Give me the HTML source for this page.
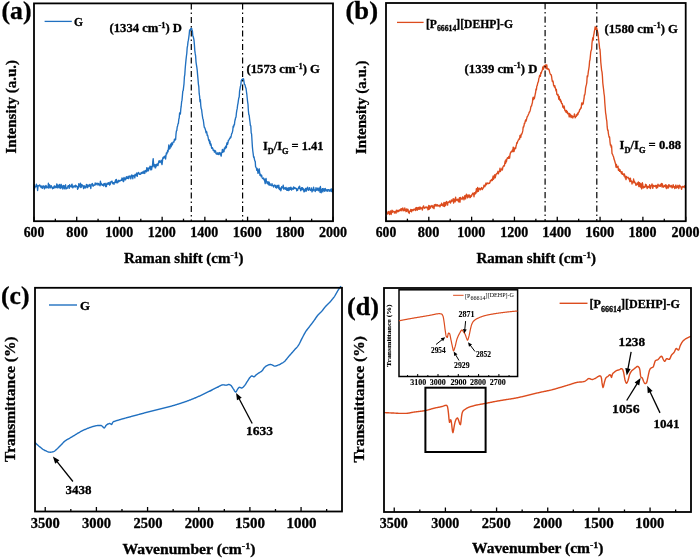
<!DOCTYPE html>
<html><head><meta charset="utf-8"><style>
html,body{margin:0;padding:0;background:#fff;}
svg{display:block;}
text{font-family:'Liberation Serif','Times New Roman',serif;fill:#000;}
text[font-weight="bold"]{stroke:#000;stroke-width:0.3px;}
text[font-size="7"],text[font-size="7.5"]{stroke-width:0.1px;}
</style></head><body>
<svg width="700" height="559" viewBox="0 0 700 559">
<rect width="700" height="559" fill="#fff"/>
<path d="M34.00,190.55 34.40,184.58 34.80,188.08 35.20,186.63 35.60,186.58 36.00,186.69 36.40,184.26 36.80,186.34 37.20,185.41 37.60,190.54 38.00,186.58 38.40,185.79 38.80,185.85 39.20,185.37 39.60,184.89 40.00,185.73 40.40,186.84 40.80,185.97 41.20,187.49 41.60,186.07 42.00,186.39 42.40,188.32 42.80,187.10 43.20,185.82 43.60,186.25 44.00,187.18 44.40,188.94 44.80,186.21 45.20,186.27 45.60,187.85 46.00,185.51 46.40,186.28 46.80,187.78 47.20,187.43 47.60,186.84 48.00,187.59 48.40,183.25 48.80,188.08 49.20,185.63 49.60,184.77 50.00,187.22 50.40,187.77 50.80,186.36 51.20,185.59 51.60,186.98 52.00,186.90 52.40,188.73 52.80,187.92 53.20,187.24 53.60,188.39 54.00,186.74 54.40,185.84 54.80,187.73 55.20,187.73 55.60,186.73 56.00,186.02 56.40,187.29 56.80,183.88 57.20,187.86 57.60,187.61 58.00,184.95 58.40,187.08 58.80,185.79 59.20,187.95 59.60,184.46 60.00,185.86 60.40,187.89 60.80,188.45 61.20,184.30 61.60,186.38 62.00,187.41 62.40,186.24 62.80,188.99 63.20,185.51 63.60,187.44 64.00,185.69 64.40,188.75 64.80,186.96 65.20,186.51 65.60,184.80 66.00,189.03 66.40,187.84 66.80,187.81 67.20,188.25 67.60,187.23 68.00,185.95 68.40,185.71 68.80,185.66 69.20,188.33 69.60,184.75 70.00,185.78 70.40,186.08 70.80,186.72 71.20,187.12 71.60,184.80 72.00,184.16 72.40,186.29 72.80,187.78 73.20,187.18 73.60,186.49 74.00,185.80 74.40,186.55 74.80,185.87 75.20,187.19 75.60,185.16 76.00,186.32 76.40,186.00 76.80,186.81 77.20,186.41 77.60,189.31 78.00,187.99 78.40,187.98 78.80,183.56 79.20,185.67 79.60,185.33 80.00,186.75 80.40,183.23 80.80,187.54 81.20,187.40 81.60,184.43 82.00,184.83 82.40,185.04 82.80,186.09 83.20,186.83 83.60,188.57 84.00,185.75 84.40,186.94 84.80,186.16 85.20,188.15 85.60,186.85 86.00,187.61 86.40,184.52 86.80,185.60 87.20,184.79 87.60,187.65 88.00,186.55 88.40,185.31 88.80,185.09 89.20,186.21 89.60,184.69 90.00,184.35 90.40,186.07 90.80,188.50 91.20,185.06 91.60,184.63 92.00,183.80 92.40,183.55 92.80,185.82 93.20,186.17 93.60,185.07 94.00,185.42 94.40,185.08 94.80,185.03 95.20,182.86 95.60,184.10 96.00,184.71 96.40,183.48 96.80,183.76 97.20,183.22 97.60,183.73 98.00,185.12 98.40,183.46 98.80,183.71 99.20,184.86 99.60,184.62 100.00,185.92 100.40,181.19 100.80,184.88 101.20,183.23 101.60,184.02 102.00,184.92 102.40,185.25 102.80,185.22 103.20,184.13 103.60,185.97 104.00,183.63 104.40,183.82 104.80,185.00 105.20,183.31 105.60,186.67 106.00,185.20 106.40,186.58 106.80,183.75 107.20,183.22 107.60,183.81 108.00,184.41 108.40,182.66 108.80,183.76 109.20,183.16 109.60,185.11 110.00,182.17 110.40,184.23 110.80,182.04 111.20,181.56 111.60,181.79 112.00,181.11 112.40,182.70 112.80,183.73 113.20,182.57 113.60,183.06 114.00,184.24 114.40,182.46 114.80,182.28 115.20,181.62 115.60,179.87 116.00,182.76 116.40,179.54 116.80,182.47 117.20,181.56 117.60,182.91 118.00,181.34 118.40,180.32 118.80,181.72 119.20,180.48 119.60,180.87 120.00,181.05 120.40,180.73 120.80,180.57 121.20,179.66 121.60,180.35 122.00,177.81 122.40,180.17 122.80,178.75 123.20,181.52 123.60,181.58 124.00,177.42 124.40,179.90 124.80,179.42 125.20,178.11 125.60,179.92 126.00,178.49 126.40,176.67 126.80,178.34 127.20,178.27 127.60,178.37 128.00,176.48 128.40,178.57 128.80,178.51 129.20,175.95 129.60,176.36 130.00,176.90 130.40,176.12 130.80,178.83 131.20,176.75 131.60,175.06 132.00,175.18 132.40,175.94 132.80,178.73 133.20,175.48 133.60,175.71 134.00,176.04 134.40,175.19 134.80,177.93 135.20,174.26 135.60,175.69 136.00,174.80 136.40,175.22 136.80,172.81 137.20,176.33 137.60,173.81 138.00,173.84 138.40,172.47 138.80,172.57 139.20,174.03 139.60,174.39 140.00,173.94 140.40,174.35 140.80,173.58 141.20,172.57 141.60,173.43 142.00,172.98 142.40,171.96 142.80,172.84 143.20,173.39 143.60,171.91 144.00,171.01 144.40,172.18 144.80,173.47 145.20,170.64 145.60,170.57 146.00,170.29 146.40,171.75 146.80,167.67 147.20,170.16 147.60,170.93 148.00,168.16 148.40,170.78 148.80,169.34 149.20,167.75 149.60,168.46 150.00,166.08 150.40,167.10 150.80,169.92 151.20,166.36 151.60,169.63 152.00,167.08 152.40,166.53 152.80,161.71 153.20,158.71 153.60,164.15 154.00,166.70 154.40,164.87 154.80,164.45 155.20,167.90 155.60,167.92 156.00,164.88 156.40,164.37 156.80,165.95 157.20,163.89 157.60,165.22 158.00,165.50 158.40,163.17 158.80,161.27 159.20,160.62 159.60,161.81 160.00,162.60 160.40,161.54 160.80,161.64 161.20,160.17 161.60,163.02 162.00,164.67 162.40,161.73 162.80,158.06 163.20,157.33 163.60,158.21 164.00,156.85 164.40,156.39 164.80,157.71 165.20,155.99 165.60,158.98 166.00,155.71 166.40,152.97 166.80,153.97 167.20,152.67 167.60,150.53 168.00,151.91 168.40,148.71 168.80,145.02 169.20,149.04 169.60,146.56 170.00,148.53 170.40,145.24 170.80,143.98 171.20,146.80 171.60,142.91 172.00,143.91 172.40,144.92 172.80,142.74 173.20,141.99 173.60,141.68 174.00,142.00 174.40,139.24 174.80,140.19 175.20,139.14 175.60,139.69 176.00,134.14 176.40,130.94 176.80,130.56 177.20,127.01 177.60,125.96 178.00,123.93 178.40,123.40 178.80,119.25 179.20,117.99 179.60,112.96 180.00,113.08 180.40,114.02 180.80,108.92 181.20,106.19 181.60,101.96 182.00,100.17 182.40,95.92 182.80,91.16 183.20,90.68 183.60,87.11 184.00,83.82 184.40,76.95 184.80,74.62 185.20,68.52 185.60,64.03 186.00,59.84 186.40,56.27 186.80,53.27 187.20,47.54 187.60,45.63 188.00,41.93 188.40,40.19 188.80,37.32 189.20,34.25 189.60,29.99 190.00,30.99 190.40,30.19 190.80,28.52 191.20,28.83 191.60,28.21 192.00,29.70 192.40,30.85 192.80,35.85 193.20,36.50 193.60,38.16 194.00,40.14 194.40,44.91 194.80,50.58 195.20,53.40 195.60,55.81 196.00,61.82 196.40,64.73 196.80,67.09 197.20,70.15 197.60,74.83 198.00,79.08 198.40,84.08 198.80,86.57 199.20,93.70 199.60,96.06 200.00,101.73 200.40,99.64 200.80,105.79 201.20,108.67 201.60,109.49 202.00,113.01 202.40,115.99 202.80,118.40 203.20,119.50 203.60,122.26 204.00,125.62 204.40,127.59 204.80,127.61 205.20,128.96 205.60,130.40 206.00,132.71 206.40,131.34 206.80,132.28 207.20,135.37 207.60,135.07 208.00,136.94 208.40,138.97 208.80,140.61 209.20,139.79 209.60,143.23 210.00,141.15 210.40,145.17 210.80,143.60 211.20,144.96 211.60,148.22 212.00,147.59 212.40,147.67 212.80,148.62 213.20,150.24 213.60,150.03 214.00,150.46 214.40,152.19 214.80,150.32 215.20,150.94 215.60,151.17 216.00,153.56 216.40,153.62 216.80,154.27 217.20,152.89 217.60,152.97 218.00,154.42 218.40,152.98 218.80,154.54 219.20,154.38 219.60,152.54 220.00,153.21 220.40,153.05 220.80,155.22 221.20,156.12 221.60,152.57 222.00,152.51 222.40,149.42 222.80,152.30 223.20,151.69 223.60,149.89 224.00,151.64 224.40,148.04 224.80,148.99 225.20,148.65 225.60,146.10 226.00,147.90 226.40,147.32 226.80,143.47 227.20,142.61 227.60,144.24 228.00,142.52 228.40,140.09 228.80,140.24 229.20,139.46 229.60,138.37 230.00,138.53 230.40,136.92 230.80,137.56 231.20,135.94 231.60,133.91 232.00,133.18 232.40,132.19 232.80,130.04 233.20,126.15 233.60,127.21 234.00,124.59 234.40,124.81 234.80,121.13 235.20,119.82 235.60,117.62 236.00,117.23 236.40,113.18 236.80,110.35 237.20,108.68 237.60,105.21 238.00,103.31 238.40,100.37 238.80,97.94 239.20,96.95 239.60,90.89 240.00,88.85 240.40,86.41 240.80,85.37 241.20,81.07 241.60,79.99 242.00,79.54 242.40,79.58 242.80,78.80 243.20,78.69 243.60,79.06 244.00,81.88 244.40,84.34 244.80,84.34 245.20,85.60 245.60,87.66 246.00,88.04 246.40,91.28 246.80,94.05 247.20,97.97 247.60,101.60 248.00,104.23 248.40,110.70 248.80,114.60 249.20,115.21 249.60,119.06 250.00,121.97 250.40,125.60 250.80,125.85 251.20,133.08 251.60,134.01 252.00,140.58 252.40,146.86 252.80,151.00 253.20,153.94 253.60,157.21 254.00,156.70 254.40,159.10 254.80,160.85 255.20,161.16 255.60,166.66 256.00,167.30 256.40,167.85 256.80,170.32 257.20,168.53 257.60,170.39 258.00,173.33 258.40,173.02 258.80,169.59 259.20,168.77 259.60,172.19 260.00,175.38 260.40,174.05 260.80,174.94 261.20,176.54 261.60,175.23 262.00,177.14 262.40,178.39 262.80,178.48 263.20,178.86 263.60,178.05 264.00,179.86 264.40,179.09 264.80,181.65 265.20,183.62 265.60,179.86 266.00,178.42 266.40,180.95 266.80,182.28 267.20,183.44 267.60,183.77 268.00,181.72 268.40,181.97 268.80,184.80 269.20,182.09 269.60,185.05 270.00,183.63 270.40,185.09 270.80,185.22 271.20,185.51 271.60,185.76 272.00,183.68 272.40,185.47 272.80,185.29 273.20,185.83 273.60,187.15 274.00,185.42 274.40,185.03 274.80,185.16 275.20,185.83 275.60,187.31 276.00,185.50 276.40,188.11 276.80,187.16 277.20,186.65 277.60,185.39 278.00,187.48 278.40,188.15 278.80,185.18 279.20,188.96 279.60,189.61 280.00,188.04 280.40,188.29 280.80,190.75 281.20,189.34 281.60,186.73 282.00,187.89 282.40,187.77 282.80,187.84 283.20,185.12 283.60,189.08 284.00,187.38 284.40,188.43 284.80,188.11 285.20,189.41 285.60,187.99 286.00,187.41 286.40,189.11 286.80,190.24 287.20,188.11 287.60,190.26 288.00,188.90 288.40,187.93 288.80,190.53 289.20,187.62 289.60,189.93 290.00,188.05 290.40,189.25 290.80,187.15 291.20,187.65 291.60,190.03 292.00,188.94 292.40,188.75 292.80,188.15 293.20,189.26 293.60,186.95 294.00,187.30 294.40,188.50 294.80,187.66 295.20,187.82 295.60,188.61 296.00,188.53 296.40,188.42 296.80,190.78 297.20,189.96 297.60,190.24 298.00,188.66 298.40,188.07 298.80,186.88 299.20,188.26 299.60,186.09 300.00,187.97 300.40,189.66 300.80,190.73 301.20,189.91 301.60,187.62 302.00,189.32 302.40,187.71 302.80,189.73 303.20,188.56 303.60,189.78 304.00,191.93 304.40,189.89 304.80,191.68 305.20,189.01 305.60,188.41 306.00,190.53 306.40,191.06 306.80,188.26 307.20,189.10 307.60,187.26 308.00,188.86 308.40,190.28 308.80,189.11 309.20,188.57 309.60,187.58 310.00,189.86 310.40,190.45 310.80,190.25 311.20,189.88 311.60,188.02 312.00,191.87 312.40,189.64 312.80,189.57 313.20,190.71 313.60,187.12 314.00,189.78 314.40,189.71 314.80,190.37 315.20,191.60 315.60,190.52 316.00,187.65 316.40,189.54 316.80,190.23 317.20,190.17 317.60,188.40 318.00,187.94 318.40,190.72 318.80,190.47 319.20,190.03 319.60,187.91 320.00,192.30 320.40,186.47 320.80,189.65 321.20,192.73 321.60,189.93 322.00,190.43 322.40,188.67 322.80,191.86 323.20,188.55 323.60,190.50 324.00,190.36 324.40,188.88 324.80,191.32 325.20,188.45 325.60,189.37 326.00,190.20 326.40,189.72 326.80,190.83 327.20,191.41 327.60,189.89 328.00,189.59 328.40,189.62 328.80,189.82 329.20,191.29 329.60,190.01 330.00,190.80 330.40,190.18 330.80,189.24 331.20,191.37 331.60,189.00 332.00,190.31 332.40,192.16 332.80,188.93" fill="none" stroke="#2070c0" stroke-width="1.35" stroke-linejoin="round"/>
<line x1="191.3" y1="3.4" x2="191.3" y2="221.2" stroke="#000" stroke-width="1.2" stroke-dasharray="6.2,2.9,1.4,3.0"/>
<line x1="242.6" y1="3.4" x2="242.6" y2="221.2" stroke="#000" stroke-width="1.2" stroke-dasharray="6.2,2.9,1.4,3.0"/>
<rect x="34" y="3.4" width="299" height="217.79999999999998" fill="none" stroke="#000" stroke-width="1.8"/>
<line x1="34.00" y1="221.2" x2="34.00" y2="216.7" stroke="#000" stroke-width="1.3"/>
<line x1="76.71" y1="221.2" x2="76.71" y2="216.7" stroke="#000" stroke-width="1.3"/>
<line x1="119.43" y1="221.2" x2="119.43" y2="216.7" stroke="#000" stroke-width="1.3"/>
<line x1="162.14" y1="221.2" x2="162.14" y2="216.7" stroke="#000" stroke-width="1.3"/>
<line x1="204.86" y1="221.2" x2="204.86" y2="216.7" stroke="#000" stroke-width="1.3"/>
<line x1="247.57" y1="221.2" x2="247.57" y2="216.7" stroke="#000" stroke-width="1.3"/>
<line x1="290.29" y1="221.2" x2="290.29" y2="216.7" stroke="#000" stroke-width="1.3"/>
<line x1="333.00" y1="221.2" x2="333.00" y2="216.7" stroke="#000" stroke-width="1.3"/>
<line x1="55.36" y1="221.2" x2="55.36" y2="218.7" stroke="#000" stroke-width="1.3"/>
<line x1="98.07" y1="221.2" x2="98.07" y2="218.7" stroke="#000" stroke-width="1.3"/>
<line x1="140.79" y1="221.2" x2="140.79" y2="218.7" stroke="#000" stroke-width="1.3"/>
<line x1="183.50" y1="221.2" x2="183.50" y2="218.7" stroke="#000" stroke-width="1.3"/>
<line x1="226.21" y1="221.2" x2="226.21" y2="218.7" stroke="#000" stroke-width="1.3"/>
<line x1="268.93" y1="221.2" x2="268.93" y2="218.7" stroke="#000" stroke-width="1.3"/>
<line x1="311.64" y1="221.2" x2="311.64" y2="218.7" stroke="#000" stroke-width="1.3"/>
<line x1="44.6" y1="21.4" x2="71.8" y2="21.4" stroke="#2070c0" stroke-width="1.3"/>
<path d="M386.00,211.60 386.40,210.94 386.80,212.29 387.20,213.12 387.60,214.01 388.00,212.72 388.40,211.88 388.80,211.58 389.20,213.49 389.60,214.58 390.00,212.87 390.40,210.97 390.80,211.29 391.20,214.47 391.60,212.71 392.00,210.27 392.40,212.31 392.80,210.94 393.20,211.58 393.60,211.73 394.00,211.42 394.40,212.98 394.80,212.18 395.20,211.49 395.60,212.70 396.00,213.20 396.40,210.07 396.80,211.77 397.20,210.80 397.60,211.71 398.00,210.19 398.40,211.68 398.80,211.45 399.20,210.95 399.60,209.85 400.00,210.50 400.40,209.48 400.80,209.02 401.20,210.89 401.60,208.65 402.00,209.46 402.40,209.90 402.80,208.00 403.20,210.84 403.60,209.12 404.00,210.54 404.40,210.55 404.80,208.01 405.20,210.21 405.60,210.18 406.00,211.70 406.40,209.02 406.80,211.42 407.20,209.13 407.60,210.09 408.00,209.44 408.40,212.29 408.80,211.17 409.20,213.47 409.60,211.19 410.00,211.40 410.40,211.35 410.80,209.48 411.20,210.10 411.60,211.81 412.00,209.56 412.40,210.22 412.80,209.88 413.20,210.59 413.60,209.30 414.00,209.49 414.40,209.90 414.80,209.65 415.20,208.36 415.60,210.48 416.00,207.66 416.40,207.70 416.80,207.53 417.20,210.27 417.60,208.54 418.00,207.72 418.40,207.45 418.80,209.34 419.20,207.44 419.60,207.11 420.00,209.41 420.40,207.09 420.80,208.12 421.20,208.46 421.60,207.86 422.00,208.29 422.40,209.98 422.80,207.60 423.20,206.62 423.60,205.84 424.00,207.82 424.40,207.58 424.80,208.30 425.20,207.33 425.60,207.25 426.00,206.89 426.40,207.08 426.80,207.87 427.20,207.13 427.60,207.66 428.00,209.85 428.40,208.00 428.80,205.36 429.20,209.43 429.60,207.63 430.00,205.94 430.40,208.18 430.80,206.99 431.20,206.11 431.60,206.01 432.00,205.48 432.40,206.69 432.80,207.88 433.20,206.05 433.60,206.89 434.00,208.62 434.40,204.66 434.80,206.39 435.20,205.58 435.60,204.52 436.00,204.43 436.40,205.57 436.80,206.00 437.20,204.67 437.60,205.27 438.00,205.99 438.40,205.34 438.80,205.94 439.20,205.34 439.60,205.28 440.00,206.88 440.40,205.32 440.80,204.65 441.20,205.33 441.60,203.25 442.00,203.94 442.40,205.32 442.80,205.08 443.20,206.19 443.60,204.22 444.00,202.34 444.40,206.55 444.80,205.42 445.20,202.66 445.60,205.60 446.00,203.80 446.40,201.35 446.80,202.92 447.20,202.63 447.60,205.06 448.00,201.88 448.40,202.35 448.80,202.12 449.20,201.79 449.60,200.93 450.00,202.17 450.40,203.08 450.80,202.37 451.20,200.29 451.60,199.88 452.00,201.33 452.40,200.16 452.80,200.13 453.20,198.69 453.60,203.10 454.00,201.69 454.40,199.21 454.80,201.44 455.20,201.86 455.60,197.08 456.00,199.27 456.40,199.35 456.80,200.53 457.20,199.45 457.60,199.20 458.00,199.30 458.40,201.57 458.80,201.84 459.20,198.36 459.60,197.74 460.00,202.14 460.40,197.43 460.80,197.81 461.20,198.44 461.60,198.87 462.00,199.42 462.40,198.50 462.80,196.79 463.20,198.39 463.60,197.95 464.00,199.86 464.40,197.37 464.80,195.60 465.20,195.84 465.60,198.83 466.00,196.22 466.40,194.14 466.80,195.92 467.20,196.51 467.60,197.86 468.00,194.97 468.40,196.93 468.80,196.95 469.20,194.93 469.60,195.42 470.00,197.70 470.40,197.48 470.80,196.22 471.20,195.39 471.60,196.21 472.00,194.42 472.40,194.28 472.80,193.09 473.20,193.91 473.60,193.52 474.00,196.78 474.40,192.76 474.80,194.26 475.20,193.99 475.60,191.77 476.00,193.14 476.40,188.64 476.80,191.17 477.20,191.84 477.60,187.50 478.00,188.81 478.40,191.35 478.80,189.49 479.20,188.23 479.60,188.94 480.00,188.53 480.40,189.92 480.80,189.38 481.20,188.25 481.60,187.56 482.00,188.10 482.40,189.58 482.80,188.10 483.20,188.19 483.60,186.90 484.00,185.14 484.40,185.53 484.80,186.87 485.20,185.82 485.60,184.18 486.00,182.91 486.40,184.69 486.80,183.76 487.20,183.38 487.60,183.04 488.00,183.45 488.40,183.10 488.80,183.58 489.20,183.17 489.60,183.31 490.00,182.29 490.40,180.49 490.80,180.47 491.20,180.77 491.60,179.38 492.00,180.06 492.40,180.42 492.80,177.57 493.20,175.94 493.60,179.21 494.00,177.30 494.40,177.67 494.80,174.61 495.20,177.91 495.60,176.13 496.00,174.52 496.40,173.74 496.80,173.86 497.20,173.09 497.60,172.58 498.00,171.19 498.40,173.85 498.80,171.93 499.20,171.79 499.60,171.53 500.00,168.18 500.40,171.49 500.80,170.11 501.20,169.82 501.60,169.89 502.00,168.17 502.40,169.98 502.80,167.50 503.20,166.53 503.60,165.74 504.00,166.08 504.40,165.82 504.80,163.13 505.20,160.99 505.60,163.26 506.00,159.74 506.40,161.82 506.80,159.58 507.20,158.14 507.60,157.61 508.00,158.41 508.40,158.38 508.80,156.46 509.20,157.33 509.60,158.19 510.00,154.74 510.40,152.98 510.80,152.52 511.20,151.53 511.60,151.90 512.00,151.22 512.40,149.89 512.80,151.62 513.20,147.08 513.60,148.07 514.00,151.59 514.40,149.71 514.80,148.39 515.20,147.61 515.60,148.54 516.00,146.27 516.40,144.96 516.80,142.56 517.20,143.22 517.60,141.58 518.00,140.78 518.40,139.90 518.80,139.84 519.20,138.56 519.60,139.11 520.00,135.40 520.40,135.86 520.80,137.39 521.20,134.10 521.60,134.52 522.00,133.37 522.40,132.48 522.80,130.63 523.20,126.83 523.60,127.08 524.00,125.79 524.40,123.20 524.80,123.46 525.20,121.41 525.60,119.86 526.00,121.19 526.40,119.88 526.80,118.09 527.20,116.77 527.60,116.28 528.00,115.44 528.40,114.38 528.80,113.73 529.20,112.13 529.60,112.00 530.00,110.99 530.40,109.58 530.80,107.08 531.20,105.90 531.60,105.97 532.00,103.93 532.40,102.86 532.80,98.55 533.20,97.07 533.60,99.64 534.00,98.40 534.40,98.46 534.80,96.29 535.20,94.27 535.60,92.52 536.00,89.02 536.40,90.00 536.80,86.17 537.20,85.68 537.60,83.67 538.00,82.28 538.40,81.67 538.80,78.62 539.20,77.48 539.60,75.65 540.00,75.03 540.40,76.34 540.80,72.56 541.20,73.30 541.60,71.76 542.00,70.71 542.40,69.99 542.80,66.99 543.20,68.11 543.60,69.19 544.00,65.96 544.40,66.46 544.80,65.47 545.20,66.70 545.60,65.01 546.00,68.45 546.40,66.09 546.80,64.79 547.20,69.16 547.60,68.59 548.00,68.68 548.40,69.46 548.80,69.16 549.20,70.12 549.60,72.15 550.00,73.32 550.40,74.34 550.80,74.51 551.20,74.81 551.60,76.49 552.00,79.58 552.40,81.49 552.80,80.73 553.20,81.90 553.60,85.30 554.00,85.84 554.40,86.97 554.80,85.59 555.20,87.87 555.60,88.78 556.00,90.76 556.40,89.46 556.80,94.24 557.20,94.11 557.60,95.34 558.00,94.33 558.40,96.72 558.80,99.27 559.20,96.38 559.60,99.40 560.00,100.50 560.40,99.35 560.80,101.82 561.20,101.00 561.60,103.60 562.00,103.45 562.40,103.90 562.80,107.04 563.20,106.53 563.60,108.10 564.00,105.93 564.40,107.51 564.80,110.18 565.20,110.98 565.60,110.47 566.00,112.19 566.40,110.52 566.80,112.68 567.20,111.47 567.60,113.73 568.00,113.03 568.40,113.16 568.80,114.33 569.20,116.81 569.60,113.53 570.00,114.26 570.40,116.54 570.80,114.83 571.20,117.69 571.60,115.84 572.00,115.76 572.40,116.17 572.80,117.97 573.20,116.68 573.60,116.56 574.00,116.27 574.40,114.03 574.80,114.89 575.20,117.84 575.60,116.92 576.00,116.36 576.40,116.28 576.80,114.50 577.20,115.24 577.60,113.30 578.00,114.49 578.40,112.46 578.80,112.11 579.20,111.80 579.60,109.65 580.00,109.81 580.40,108.67 580.80,107.73 581.20,108.14 581.60,103.83 582.00,102.81 582.40,104.60 582.80,103.88 583.20,103.86 583.60,100.68 584.00,98.95 584.40,94.83 584.80,94.78 585.20,92.50 585.60,88.13 586.00,86.08 586.40,84.66 586.80,82.62 587.20,75.94 587.60,76.99 588.00,74.42 588.40,71.09 588.80,68.82 589.20,66.08 589.60,61.14 590.00,59.75 590.40,55.77 590.80,51.85 591.20,50.44 591.60,49.35 592.00,42.99 592.40,40.17 592.80,37.74 593.20,40.07 593.60,35.39 594.00,33.81 594.40,31.08 594.80,29.29 595.20,26.80 595.60,29.11 596.00,29.37 596.40,26.98 596.80,28.78 597.20,29.95 597.60,31.77 598.00,33.69 598.40,37.39 598.80,40.96 599.20,44.20 599.60,48.21 600.00,49.35 600.40,54.99 600.80,62.23 601.20,66.14 601.60,70.29 602.00,71.88 602.40,75.93 602.80,82.98 603.20,86.35 603.60,89.54 604.00,93.50 604.40,96.01 604.80,102.81 605.20,107.81 605.60,112.78 606.00,115.15 606.40,118.86 606.80,121.07 607.20,126.93 607.60,130.24 608.00,129.93 608.40,133.58 608.80,135.73 609.20,137.21 609.60,137.03 610.00,141.82 610.40,145.10 610.80,144.53 611.20,147.21 611.60,145.98 612.00,153.40 612.40,154.02 612.80,154.97 613.20,156.04 613.60,156.98 614.00,159.01 614.40,160.00 614.80,161.29 615.20,162.76 615.60,164.15 616.00,167.09 616.40,164.42 616.80,167.52 617.20,167.20 617.60,167.16 618.00,166.14 618.40,170.31 618.80,168.72 619.20,169.37 619.60,171.24 620.00,169.63 620.40,171.34 620.80,171.55 621.20,173.00 621.60,173.65 622.00,171.71 622.40,174.37 622.80,173.54 623.20,174.25 623.60,174.27 624.00,175.95 624.40,173.90 624.80,176.16 625.20,177.72 625.60,176.29 626.00,179.55 626.40,176.45 626.80,177.95 627.20,177.38 627.60,177.50 628.00,177.16 628.40,178.15 628.80,179.03 629.20,178.34 629.60,180.70 630.00,181.73 630.40,178.16 630.80,181.34 631.20,180.75 631.60,181.03 632.00,184.01 632.40,182.65 632.80,181.76 633.20,181.77 633.60,179.04 634.00,182.90 634.40,181.19 634.80,182.52 635.20,182.60 635.60,183.85 636.00,185.36 636.40,184.21 636.80,184.74 637.20,183.01 637.60,184.03 638.00,184.57 638.40,181.96 638.80,186.46 639.20,183.16 639.60,182.59 640.00,186.37 640.40,187.12 640.80,183.74 641.20,184.00 641.60,188.82 642.00,185.23 642.40,182.77 642.80,184.64 643.20,188.06 643.60,186.53 644.00,186.78 644.40,187.50 644.80,186.93 645.20,185.77 645.60,184.28 646.00,186.90 646.40,184.99 646.80,186.33 647.20,188.60 647.60,187.08 648.00,186.47 648.40,186.48 648.80,187.31 649.20,187.55 649.60,184.75 650.00,186.63 650.40,188.54 650.80,187.34 651.20,185.44 651.60,185.55 652.00,183.82 652.40,185.41 652.80,188.41 653.20,186.31 653.60,185.33 654.00,185.68 654.40,186.25 654.80,186.23 655.20,185.90 655.60,185.36 656.00,187.08 656.40,188.18 656.80,185.51 657.20,185.51 657.60,187.63 658.00,184.28 658.40,185.34 658.80,185.58 659.20,186.24 659.60,185.67 660.00,184.90 660.40,186.39 660.80,184.52 661.20,183.84 661.60,183.50 662.00,186.99 662.40,183.91 662.80,186.68 663.20,186.99 663.60,187.20 664.00,186.00 664.40,185.57 664.80,186.40 665.20,185.58 665.60,184.74 666.00,187.94 666.40,185.27 666.80,188.64 667.20,187.04 667.60,185.83 668.00,186.95 668.40,187.94 668.80,184.68 669.20,185.24 669.60,185.09 670.00,186.61 670.40,186.91 670.80,186.44 671.20,185.49 671.60,185.74 672.00,187.88 672.40,187.80 672.80,186.56 673.20,184.76 673.60,187.19 674.00,186.76 674.40,186.72 674.80,188.57 675.20,187.44 675.60,185.20 676.00,185.22 676.40,188.17 676.80,186.71 677.20,187.58 677.60,186.36 678.00,185.32 678.40,186.93 678.80,188.57 679.20,187.07 679.60,185.27 680.00,186.32 680.40,186.11 680.80,186.99 681.20,188.08 681.60,189.31 682.00,187.16 682.40,186.38 682.80,187.05 683.20,187.01 683.60,186.49 684.00,187.09 684.40,187.10 684.80,185.66 685.20,187.86 685.60,186.76" fill="none" stroke="#dc4c1e" stroke-width="1.35" stroke-linejoin="round"/>
<line x1="545.1" y1="3" x2="545.1" y2="221.2" stroke="#000" stroke-width="1.2" stroke-dasharray="6.2,2.9,1.4,3.0"/>
<line x1="596.8" y1="3" x2="596.8" y2="221.2" stroke="#000" stroke-width="1.2" stroke-dasharray="6.2,2.9,1.4,3.0"/>
<rect x="386" y="3" width="299.70000000000005" height="218.2" fill="none" stroke="#000" stroke-width="1.8"/>
<line x1="386.00" y1="221.2" x2="386.00" y2="216.7" stroke="#000" stroke-width="1.3"/>
<line x1="428.81" y1="221.2" x2="428.81" y2="216.7" stroke="#000" stroke-width="1.3"/>
<line x1="471.63" y1="221.2" x2="471.63" y2="216.7" stroke="#000" stroke-width="1.3"/>
<line x1="514.44" y1="221.2" x2="514.44" y2="216.7" stroke="#000" stroke-width="1.3"/>
<line x1="557.26" y1="221.2" x2="557.26" y2="216.7" stroke="#000" stroke-width="1.3"/>
<line x1="600.07" y1="221.2" x2="600.07" y2="216.7" stroke="#000" stroke-width="1.3"/>
<line x1="642.89" y1="221.2" x2="642.89" y2="216.7" stroke="#000" stroke-width="1.3"/>
<line x1="685.70" y1="221.2" x2="685.70" y2="216.7" stroke="#000" stroke-width="1.3"/>
<line x1="407.41" y1="221.2" x2="407.41" y2="218.7" stroke="#000" stroke-width="1.3"/>
<line x1="450.22" y1="221.2" x2="450.22" y2="218.7" stroke="#000" stroke-width="1.3"/>
<line x1="493.04" y1="221.2" x2="493.04" y2="218.7" stroke="#000" stroke-width="1.3"/>
<line x1="535.85" y1="221.2" x2="535.85" y2="218.7" stroke="#000" stroke-width="1.3"/>
<line x1="578.66" y1="221.2" x2="578.66" y2="218.7" stroke="#000" stroke-width="1.3"/>
<line x1="621.48" y1="221.2" x2="621.48" y2="218.7" stroke="#000" stroke-width="1.3"/>
<line x1="664.29" y1="221.2" x2="664.29" y2="218.7" stroke="#000" stroke-width="1.3"/>
<line x1="397" y1="22.4" x2="423.6" y2="22.4" stroke="#dc4c1e" stroke-width="1.3"/>
<path d="M35.00,442.50 35.50,443.00 36.00,443.48 36.50,443.96 37.00,444.43 37.50,444.88 38.00,445.33 38.50,445.76 39.00,446.19 39.50,446.60 40.00,447.00 40.50,447.40 41.00,447.79 41.50,448.19 42.00,448.58 42.50,448.96 43.00,449.32 43.50,449.66 44.00,449.97 44.50,450.25 45.00,450.50 45.50,450.73 46.00,450.97 46.50,451.20 47.00,451.43 47.50,451.64 48.00,451.82 48.50,451.98 49.00,452.10 49.50,452.17 50.00,452.20 50.50,452.19 51.00,452.14 51.50,452.08 52.00,452.00 52.50,451.90 53.00,451.80 53.50,451.64 54.00,451.39 54.50,451.08 55.00,450.70 55.50,450.29 56.00,449.86 56.50,449.42 57.00,449.00 57.50,448.57 58.00,448.10 58.50,447.60 59.00,447.09 59.50,446.56 60.00,446.03 60.50,445.51 61.00,445.00 61.50,444.49 62.00,443.95 62.50,443.41 63.00,442.88 63.50,442.36 64.00,441.86 64.50,441.41 65.00,441.00 65.50,440.64 66.00,440.30 66.50,439.98 67.00,439.69 67.50,439.40 68.00,439.12 68.50,438.85 69.00,438.57 69.50,438.29 70.00,438.00 70.50,437.70 71.00,437.40 71.50,437.10 72.00,436.80 72.50,436.50 73.00,436.20 73.50,435.90 74.00,435.60 74.50,435.30 75.00,435.00 75.50,434.70 76.00,434.39 76.50,434.08 77.00,433.77 77.50,433.47 78.00,433.16 78.50,432.86 79.00,432.57 79.50,432.28 80.00,432.00 80.50,431.73 81.00,431.46 81.50,431.20 82.00,430.94 82.50,430.69 83.00,430.44 83.50,430.19 84.00,429.96 84.50,429.73 85.00,429.50 85.50,429.28 86.00,429.06 86.50,428.85 87.00,428.64 87.50,428.44 88.00,428.24 88.50,428.04 89.00,427.86 89.50,427.67 90.00,427.50 90.50,427.33 91.00,427.16 91.50,426.99 92.00,426.83 92.50,426.67 93.00,426.51 93.50,426.37 94.00,426.24 94.50,426.11 95.00,426.00 95.50,425.89 96.00,425.78 96.50,425.67 97.00,425.58 97.50,425.52 98.00,425.50 98.50,425.50 99.00,425.50 99.50,425.50 100.00,425.50 100.50,425.50 101.00,425.50 101.50,425.68 102.00,426.07 102.50,426.50 103.00,427.00 103.50,427.57 104.00,427.96 104.50,427.86 105.00,427.15 105.50,426.23 106.00,425.50 106.50,425.03 107.00,424.60 107.50,424.25 108.00,424.00 108.50,423.82 109.00,423.66 109.50,423.54 110.00,423.50 110.50,423.76 111.00,424.24 111.50,424.50 112.00,423.93 112.50,422.80 113.00,422.00 113.50,421.72 114.00,421.52 114.50,421.36 115.00,421.20 115.50,421.03 116.00,420.85 116.50,420.69 117.00,420.53 117.50,420.37 118.00,420.21 118.50,420.06 119.00,419.91 119.50,419.76 120.00,419.61 120.50,419.47 121.00,419.33 121.50,419.18 122.00,419.04 122.50,418.90 123.00,418.76 123.50,418.62 124.00,418.48 124.50,418.34 125.00,418.20 125.50,418.06 126.00,417.92 126.50,417.78 127.00,417.64 127.50,417.51 128.00,417.37 128.50,417.23 129.00,417.10 129.50,416.97 130.00,416.83 130.50,416.70 131.00,416.57 131.50,416.43 132.00,416.30 132.50,416.17 133.00,416.04 133.50,415.90 134.00,415.77 134.50,415.63 135.00,415.50 135.50,415.36 136.00,415.23 136.50,415.09 137.00,414.96 137.50,414.82 138.00,414.69 138.50,414.55 139.00,414.42 139.50,414.28 140.00,414.14 140.50,414.01 141.00,413.87 141.50,413.74 142.00,413.60 142.50,413.47 143.00,413.33 143.50,413.20 144.00,413.07 144.50,412.93 145.00,412.80 145.50,412.67 146.00,412.54 146.50,412.40 147.00,412.27 147.50,412.14 148.00,412.01 148.50,411.87 149.00,411.74 149.50,411.61 150.00,411.48 150.50,411.35 151.00,411.22 151.50,411.09 152.00,410.96 152.50,410.83 153.00,410.71 153.50,410.58 154.00,410.45 154.50,410.33 155.00,410.20 155.50,410.08 156.00,409.95 156.50,409.83 157.00,409.71 157.50,409.59 158.00,409.47 158.50,409.35 159.00,409.24 159.50,409.12 160.00,409.00 160.50,408.88 161.00,408.77 161.50,408.65 162.00,408.53 162.50,408.41 163.00,408.29 163.50,408.17 164.00,408.05 164.50,407.92 165.00,407.80 165.50,407.67 166.00,407.55 166.50,407.42 167.00,407.29 167.50,407.17 168.00,407.04 168.50,406.90 169.00,406.77 169.50,406.64 170.00,406.50 170.50,406.36 171.00,406.22 171.50,406.08 172.00,405.94 172.50,405.79 173.00,405.65 173.50,405.50 174.00,405.36 174.50,405.21 175.00,405.06 175.50,404.91 176.00,404.76 176.50,404.60 177.00,404.45 177.50,404.29 178.00,404.14 178.50,403.98 179.00,403.82 179.50,403.66 180.00,403.50 180.50,403.34 181.00,403.17 181.50,403.01 182.00,402.84 182.50,402.68 183.00,402.51 183.50,402.34 184.00,402.17 184.50,402.00 185.00,401.82 185.50,401.65 186.00,401.47 186.50,401.29 187.00,401.11 187.50,400.93 188.00,400.75 188.50,400.56 189.00,400.38 189.50,400.19 190.00,400.00 190.50,399.81 191.00,399.61 191.50,399.42 192.00,399.22 192.50,399.02 193.00,398.81 193.50,398.61 194.00,398.40 194.50,398.19 195.00,397.98 195.50,397.77 196.00,397.56 196.50,397.34 197.00,397.13 197.50,396.91 198.00,396.69 198.50,396.47 199.00,396.25 199.50,396.02 200.00,395.80 200.50,395.57 201.00,395.35 201.50,395.12 202.00,394.88 202.50,394.65 203.00,394.41 203.50,394.18 204.00,393.94 204.50,393.69 205.00,393.45 205.50,393.21 206.00,392.97 206.50,392.72 207.00,392.48 207.50,392.23 208.00,391.98 208.50,391.74 209.00,391.49 209.50,391.25 210.00,391.00 210.50,390.75 211.00,390.50 211.50,390.25 212.00,390.00 212.50,389.74 213.00,389.49 213.50,389.23 214.00,388.98 214.50,388.72 215.00,388.47 215.50,388.21 216.00,387.97 216.50,387.72 217.00,387.47 217.50,387.24 218.00,387.00 218.50,386.75 219.00,386.47 219.50,386.18 220.00,385.89 220.50,385.61 221.00,385.35 221.50,385.13 222.00,384.95 222.50,384.84 223.00,384.80 223.50,384.83 224.00,384.90 224.50,385.00 225.00,385.10 225.50,385.17 226.00,385.20 226.50,385.14 227.00,384.98 227.50,384.79 228.00,384.62 228.50,384.51 229.00,384.52 229.50,384.66 230.00,384.88 230.50,385.14 231.00,385.50 231.50,386.07 232.00,386.77 232.50,387.55 233.00,388.32 233.50,389.04 234.00,389.88 234.50,390.80 235.00,391.59 235.50,392.05 236.00,391.95 236.50,391.23 237.00,390.24 237.50,389.40 238.00,388.69 238.50,387.98 239.00,387.46 239.50,387.30 240.00,387.42 240.50,387.63 241.00,387.84 241.50,387.99 242.00,387.95 242.50,387.70 243.00,387.28 243.50,386.75 244.00,386.17 244.50,385.60 245.00,385.00 245.50,384.30 246.00,383.53 246.50,382.74 247.00,381.95 247.50,381.20 248.00,380.39 248.50,379.56 249.00,378.75 249.50,378.02 250.00,377.40 250.50,376.88 251.00,376.37 251.50,376.01 252.00,375.91 252.50,376.11 253.00,376.46 253.50,376.74 254.00,376.78 254.50,376.54 255.00,376.11 255.50,375.59 256.00,375.05 256.50,374.58 257.00,374.21 257.50,373.86 258.00,373.53 258.50,373.20 259.00,372.87 259.50,372.53 260.00,372.23 260.50,371.94 261.00,371.64 261.50,371.30 262.00,370.89 262.50,370.32 263.00,369.52 263.50,368.68 264.00,368.00 264.50,367.48 265.00,366.99 265.50,366.56 266.00,366.17 266.50,365.86 267.00,365.60 267.50,365.37 268.00,365.14 268.50,364.94 269.00,364.76 269.50,364.62 270.00,364.53 270.50,364.50 271.00,364.55 271.50,364.69 272.00,364.86 272.50,365.04 273.00,365.30 273.50,365.61 274.00,365.91 274.50,366.08 275.00,366.09 275.50,366.01 276.00,365.89 276.50,365.72 277.00,365.54 277.50,365.35 278.00,365.16 278.50,364.97 279.00,364.76 279.50,364.52 280.00,364.27 280.50,364.01 281.00,363.74 281.50,363.46 282.00,363.17 282.50,362.87 283.00,362.55 283.50,362.20 284.00,361.83 284.50,361.41 285.00,360.94 285.50,360.41 286.00,359.83 286.50,359.21 287.00,358.58 287.50,357.94 288.00,357.32 288.50,356.72 289.00,356.14 289.50,355.57 290.00,355.00 290.50,354.43 291.00,353.86 291.50,353.29 292.00,352.72 292.50,352.16 293.00,351.59 293.50,351.02 294.00,350.45 294.50,349.87 295.00,349.32 295.50,348.79 296.00,348.26 296.50,347.73 297.00,347.17 297.50,346.58 298.00,345.94 298.50,345.25 299.00,344.45 299.50,343.52 300.00,342.51 300.50,341.45 301.00,340.40 301.50,339.40 302.00,338.44 302.50,337.47 303.00,336.50 303.50,335.54 304.00,334.60 304.50,333.68 305.00,332.80 305.50,331.97 306.00,331.20 306.50,330.47 307.00,329.78 307.50,329.11 308.00,328.47 308.50,327.84 309.00,327.21 309.50,326.58 310.00,325.93 310.50,325.27 311.00,324.61 311.50,323.96 312.00,323.31 312.50,322.65 313.00,321.99 313.50,321.32 314.00,320.65 314.50,319.96 315.00,319.24 315.50,318.50 316.00,317.74 316.50,316.99 317.00,316.27 317.50,315.59 318.00,314.98 318.50,314.43 319.00,313.93 319.50,313.45 320.00,312.99 320.50,312.52 321.00,312.03 321.50,311.50 322.00,310.93 322.50,310.32 323.00,309.69 323.50,309.05 324.00,308.40 324.50,307.76 325.00,307.13 325.50,306.54 326.00,305.98 326.50,305.46 327.00,304.96 327.50,304.48 328.00,304.01 328.50,303.53 329.00,303.05 329.50,302.54 330.00,302.01 330.50,301.45 331.00,300.88 331.50,300.29 332.00,299.68 332.50,299.06 333.00,298.42 333.50,297.75 334.00,297.07 334.50,296.35 335.00,295.59 335.50,294.76 336.00,293.90 336.50,293.01 337.00,292.12 337.50,291.24 338.00,290.40 338.50,289.60 339.00,288.86 339.50,288.16 340.00,287.48 340.50,286.83 341.00,286.20" fill="none" stroke="#2070c0" stroke-width="1.4" stroke-linejoin="round"/>
<rect x="35" y="287.8" width="307" height="223.7" fill="none" stroke="#000" stroke-width="1.8"/>
<line x1="45.23" y1="511.5" x2="45.23" y2="507.0" stroke="#000" stroke-width="1.3"/>
<line x1="96.40" y1="511.5" x2="96.40" y2="507.0" stroke="#000" stroke-width="1.3"/>
<line x1="147.57" y1="511.5" x2="147.57" y2="507.0" stroke="#000" stroke-width="1.3"/>
<line x1="198.73" y1="511.5" x2="198.73" y2="507.0" stroke="#000" stroke-width="1.3"/>
<line x1="249.90" y1="511.5" x2="249.90" y2="507.0" stroke="#000" stroke-width="1.3"/>
<line x1="301.07" y1="511.5" x2="301.07" y2="507.0" stroke="#000" stroke-width="1.3"/>
<line x1="70.82" y1="511.5" x2="70.82" y2="509.0" stroke="#000" stroke-width="1.3"/>
<line x1="121.98" y1="511.5" x2="121.98" y2="509.0" stroke="#000" stroke-width="1.3"/>
<line x1="173.15" y1="511.5" x2="173.15" y2="509.0" stroke="#000" stroke-width="1.3"/>
<line x1="224.32" y1="511.5" x2="224.32" y2="509.0" stroke="#000" stroke-width="1.3"/>
<line x1="275.48" y1="511.5" x2="275.48" y2="509.0" stroke="#000" stroke-width="1.3"/>
<line x1="326.65" y1="511.5" x2="326.65" y2="509.0" stroke="#000" stroke-width="1.3"/>
<line x1="49" y1="305" x2="77" y2="305" stroke="#2070c0" stroke-width="1.4"/>
<line x1="72.9" y1="481.5" x2="56.65" y2="461.19" stroke="#000" stroke-width="1.3"/>
<polygon points="52.9,456.5 59.38,460.28 55.16,463.65" fill="#000"/>
<line x1="252.2" y1="423.5" x2="238.89" y2="398.21" stroke="#000" stroke-width="1.3"/>
<polygon points="236.1,392.9 241.75,397.84 236.97,400.35" fill="#000"/>
<path d="M384.00,412.60 384.50,412.62 385.00,412.65 385.50,412.67 386.00,412.69 386.50,412.72 387.00,412.74 387.50,412.76 388.00,412.79 388.50,412.81 389.00,412.83 389.50,412.86 390.00,412.88 390.50,412.90 391.00,412.93 391.50,412.95 392.00,412.97 392.50,413.00 393.00,413.02 393.50,413.05 394.00,413.07 394.50,413.10 395.00,413.14 395.50,413.17 396.00,413.20 396.50,413.23 397.00,413.26 397.50,413.29 398.00,413.31 398.50,413.34 399.00,413.36 399.50,413.37 400.00,413.39 400.50,413.40 401.00,413.40 401.50,413.40 402.00,413.40 402.50,413.40 403.00,413.40 403.50,413.40 404.00,413.40 404.50,413.40 405.00,413.40 405.50,413.40 406.00,413.39 406.50,413.36 407.00,413.32 407.50,413.26 408.00,413.19 408.50,413.12 409.00,413.03 409.50,412.94 410.00,412.85 410.50,412.75 411.00,412.65 411.50,412.55 412.00,412.45 412.50,412.35 413.00,412.26 413.50,412.18 414.00,412.10 414.50,412.03 415.00,411.96 415.50,411.90 416.00,411.83 416.50,411.77 417.00,411.71 417.50,411.65 418.00,411.59 418.50,411.53 419.00,411.47 419.50,411.41 420.00,411.34 420.50,411.28 421.00,411.22 421.50,411.15 422.00,411.08 422.50,411.01 423.00,410.94 423.50,410.87 424.00,410.79 424.50,410.70 425.00,410.62 425.50,410.53 426.00,410.42 426.50,410.31 427.00,410.19 427.50,410.07 428.00,409.94 428.50,409.80 429.00,409.66 429.50,409.52 430.00,409.38 430.50,409.23 431.00,409.08 431.50,408.94 432.00,408.79 432.50,408.65 433.00,408.51 433.50,408.37 434.00,408.24 434.50,408.11 435.00,407.99 435.50,407.88 436.00,407.77 436.50,407.68 437.00,407.58 437.50,407.49 438.00,407.40 438.50,407.31 439.00,407.21 439.50,407.11 440.00,407.00 440.50,406.88 441.00,406.74 441.50,406.60 442.00,406.46 442.50,406.31 443.00,406.17 443.50,406.01 444.00,405.82 444.50,405.64 445.00,405.48 445.50,405.36 446.00,405.30 446.50,405.39 447.00,405.71 447.50,406.71 448.00,409.31 448.50,413.57 449.00,419.07 449.50,422.36 450.00,421.56 450.50,419.81 451.00,420.10 451.50,423.03 452.00,427.46 452.50,431.39 453.00,432.71 453.50,430.41 454.00,427.48 454.50,424.64 455.00,422.30 455.50,420.74 456.00,419.49 456.50,418.70 457.00,418.22 457.50,418.00 458.00,418.64 458.50,419.94 459.00,421.51 459.50,423.30 460.00,424.38 460.50,424.67 461.00,421.62 461.50,416.97 462.00,413.63 462.50,411.99 463.00,411.06 463.50,410.50 464.00,410.08 464.50,409.73 465.00,409.40 465.50,409.05 466.00,408.72 466.50,408.40 467.00,408.09 467.50,407.82 468.00,407.56 468.50,407.34 469.00,407.15 469.50,406.97 470.00,406.82 470.50,406.67 471.00,406.53 471.50,406.40 472.00,406.26 472.50,406.11 473.00,405.96 473.50,405.82 474.00,405.67 474.50,405.53 475.00,405.40 475.50,405.27 476.00,405.16 476.50,405.05 477.00,404.95 477.50,404.85 478.00,404.76 478.50,404.67 479.00,404.58 479.50,404.49 480.00,404.40 480.50,404.31 481.00,404.22 481.50,404.13 482.00,404.04 482.50,403.95 483.00,403.86 483.50,403.77 484.00,403.68 484.50,403.59 485.00,403.50 485.50,403.40 486.00,403.31 486.50,403.21 487.00,403.11 487.50,403.01 488.00,402.91 488.50,402.80 489.00,402.70 489.50,402.60 490.00,402.49 490.50,402.39 491.00,402.29 491.50,402.19 492.00,402.08 492.50,401.98 493.00,401.88 493.50,401.78 494.00,401.69 494.50,401.59 495.00,401.50 495.50,401.41 496.00,401.32 496.50,401.23 497.00,401.14 497.50,401.05 498.00,400.97 498.50,400.88 499.00,400.80 499.50,400.71 500.00,400.63 500.50,400.54 501.00,400.46 501.50,400.38 502.00,400.29 502.50,400.21 503.00,400.13 503.50,400.05 504.00,399.96 504.50,399.88 505.00,399.80 505.50,399.72 506.00,399.64 506.50,399.56 507.00,399.48 507.50,399.41 508.00,399.33 508.50,399.25 509.00,399.18 509.50,399.10 510.00,399.03 510.50,398.95 511.00,398.87 511.50,398.79 512.00,398.71 512.50,398.63 513.00,398.55 513.50,398.47 514.00,398.38 514.50,398.29 515.00,398.20 515.50,398.11 516.00,398.01 516.50,397.91 517.00,397.81 517.50,397.71 518.00,397.60 518.50,397.49 519.00,397.38 519.50,397.27 520.00,397.16 520.50,397.05 521.00,396.93 521.50,396.82 522.00,396.70 522.50,396.59 523.00,396.47 523.50,396.35 524.00,396.23 524.50,396.12 525.00,396.00 525.50,395.88 526.00,395.76 526.50,395.64 527.00,395.52 527.50,395.39 528.00,395.26 528.50,395.14 529.00,395.01 529.50,394.88 530.00,394.75 530.50,394.62 531.00,394.49 531.50,394.36 532.00,394.24 532.50,394.11 533.00,393.98 533.50,393.86 534.00,393.74 534.50,393.62 535.00,393.50 535.50,393.38 536.00,393.27 536.50,393.15 537.00,393.04 537.50,392.92 538.00,392.81 538.50,392.70 539.00,392.59 539.50,392.48 540.00,392.37 540.50,392.26 541.00,392.15 541.50,392.04 542.00,391.93 542.50,391.83 543.00,391.72 543.50,391.61 544.00,391.51 544.50,391.40 545.00,391.30 545.50,391.20 546.00,391.10 546.50,391.00 547.00,390.91 547.50,390.81 548.00,390.72 548.50,390.62 549.00,390.52 549.50,390.41 550.00,390.30 550.50,390.18 551.00,390.06 551.50,389.94 552.00,389.81 552.50,389.68 553.00,389.54 553.50,389.40 554.00,389.26 554.50,389.12 555.00,388.98 555.50,388.83 556.00,388.68 556.50,388.53 557.00,388.39 557.50,388.24 558.00,388.09 558.50,387.94 559.00,387.79 559.50,387.65 560.00,387.50 560.50,387.35 561.00,387.21 561.50,387.06 562.00,386.91 562.50,386.76 563.00,386.61 563.50,386.46 564.00,386.31 564.50,386.16 565.00,386.00 565.50,385.85 566.00,385.70 566.50,385.55 567.00,385.40 567.50,385.25 568.00,385.09 568.50,384.94 569.00,384.80 569.50,384.65 570.00,384.50 570.50,384.35 571.00,384.19 571.50,384.02 572.00,383.86 572.50,383.68 573.00,383.51 573.50,383.34 574.00,383.18 574.50,383.02 575.00,382.86 575.50,382.72 576.00,382.58 576.50,382.46 577.00,382.36 577.50,382.27 578.00,382.20 578.50,382.15 579.00,382.10 579.50,382.07 580.00,382.04 580.50,382.01 581.00,381.99 581.50,381.95 582.00,381.91 582.50,381.86 583.00,381.80 583.50,381.69 584.00,381.52 584.50,381.29 585.00,381.04 585.50,380.77 586.00,380.50 586.50,380.17 587.00,379.75 587.50,379.30 588.00,378.90 588.50,378.61 589.00,378.50 589.50,378.57 590.00,378.76 590.50,379.00 591.00,379.24 591.50,379.43 592.00,379.50 592.50,379.45 593.00,379.33 593.50,379.15 594.00,378.94 594.50,378.71 595.00,378.50 595.50,378.26 596.00,377.96 596.50,377.62 597.00,377.26 597.50,376.90 598.00,376.56 598.50,376.26 599.00,376.02 599.50,375.86 600.00,375.80 600.50,376.03 601.00,376.66 601.50,378.44 602.00,382.65 602.50,385.73 603.00,387.50 603.50,386.43 604.00,384.13 604.50,382.00 605.00,380.34 605.50,378.81 606.00,377.80 606.50,377.30 607.00,376.94 607.50,376.64 608.00,376.30 608.50,375.83 609.00,375.31 609.50,374.88 610.00,374.70 610.50,375.11 611.00,376.37 611.50,377.43 612.00,375.75 612.50,374.00 613.00,373.33 613.50,372.84 614.00,372.44 614.50,372.03 615.00,371.62 615.50,371.25 616.00,370.92 616.50,370.65 617.00,370.45 617.50,370.28 618.00,370.13 618.50,369.98 619.00,369.82 619.50,369.61 620.00,369.30 620.50,368.97 621.00,368.71 621.50,368.60 622.00,368.82 622.50,369.39 623.00,370.20 623.50,371.95 624.00,374.30 624.50,377.32 625.00,380.00 625.50,381.58 626.00,382.81 626.50,383.30 627.00,382.84 627.50,381.78 628.00,380.54 628.50,378.80 629.00,376.72 629.50,374.85 630.00,373.62 630.50,372.61 631.00,371.77 631.50,371.10 632.00,370.58 632.50,370.15 633.00,369.77 633.50,369.38 634.00,368.96 634.50,368.54 635.00,368.13 635.50,367.73 636.00,367.34 636.50,366.87 637.00,366.47 637.50,366.30 638.00,366.44 638.50,366.84 639.00,367.45 639.50,368.40 640.00,370.70 640.50,375.40 641.00,377.37 641.50,377.58 642.00,377.76 642.50,378.39 643.00,379.85 643.50,381.30 644.00,382.26 644.50,383.12 645.00,383.58 645.50,383.53 646.00,383.29 646.50,382.90 647.00,381.52 647.50,379.09 648.00,376.78 648.50,374.45 649.00,372.10 649.50,370.21 650.00,369.19 650.50,368.54 651.00,368.07 651.50,367.75 652.00,367.57 652.50,367.43 653.00,367.20 653.50,366.37 654.00,364.82 654.50,363.03 655.00,361.47 655.50,360.60 656.00,360.31 656.50,360.12 657.00,359.96 657.50,359.79 658.00,359.54 658.50,359.11 659.00,358.54 659.50,357.90 660.00,357.27 660.50,356.73 661.00,356.34 661.50,356.20 662.00,356.62 662.50,357.62 663.00,358.81 663.50,359.80 664.00,360.66 664.50,361.32 665.00,361.23 665.50,360.41 666.00,359.39 666.50,358.68 667.00,358.63 667.50,358.79 668.00,359.02 668.50,359.25 669.00,359.39 669.50,359.25 670.00,358.50 670.50,357.35 671.00,356.14 671.50,355.14 672.00,354.52 672.50,354.01 673.00,353.55 673.50,353.07 674.00,352.50 674.50,351.65 675.00,350.56 675.50,349.50 676.00,348.73 676.50,348.51 677.00,348.85 677.50,349.42 678.00,349.93 678.50,350.07 679.00,349.31 679.50,347.88 680.00,346.31 680.50,345.10 681.00,344.13 681.50,343.21 682.00,342.38 682.50,341.66 683.00,341.08 683.50,340.58 684.00,340.11 684.50,339.69 685.00,339.30 685.50,338.95 686.00,338.62 686.50,338.32 687.00,338.05 687.50,337.78 688.00,337.53 688.50,337.29 689.00,337.07 689.50,336.87 690.00,336.69 690.50,336.53 691.00,336.40" fill="none" stroke="#dc4c1e" stroke-width="1.4" stroke-linejoin="round"/>
<rect x="384" y="288" width="307" height="224" fill="none" stroke="#000" stroke-width="1.8"/>
<line x1="394.23" y1="512" x2="394.23" y2="507.5" stroke="#000" stroke-width="1.3"/>
<line x1="445.40" y1="512" x2="445.40" y2="507.5" stroke="#000" stroke-width="1.3"/>
<line x1="496.57" y1="512" x2="496.57" y2="507.5" stroke="#000" stroke-width="1.3"/>
<line x1="547.73" y1="512" x2="547.73" y2="507.5" stroke="#000" stroke-width="1.3"/>
<line x1="598.90" y1="512" x2="598.90" y2="507.5" stroke="#000" stroke-width="1.3"/>
<line x1="650.07" y1="512" x2="650.07" y2="507.5" stroke="#000" stroke-width="1.3"/>
<line x1="419.82" y1="512" x2="419.82" y2="509.5" stroke="#000" stroke-width="1.3"/>
<line x1="470.98" y1="512" x2="470.98" y2="509.5" stroke="#000" stroke-width="1.3"/>
<line x1="522.15" y1="512" x2="522.15" y2="509.5" stroke="#000" stroke-width="1.3"/>
<line x1="573.32" y1="512" x2="573.32" y2="509.5" stroke="#000" stroke-width="1.3"/>
<line x1="624.48" y1="512" x2="624.48" y2="509.5" stroke="#000" stroke-width="1.3"/>
<line x1="675.65" y1="512" x2="675.65" y2="509.5" stroke="#000" stroke-width="1.3"/>
<rect x="425.4" y="387.7" width="60.2" height="64.3" fill="none" stroke="#000" stroke-width="2"/>
<line x1="559.6" y1="303.3" x2="587.5" y2="303.3" stroke="#dc4c1e" stroke-width="1.4"/>
<line x1="631.1" y1="351.8" x2="627.80" y2="369.60" stroke="#000" stroke-width="1.3"/>
<polygon points="626.7,375.5 625.32,368.12 630.63,369.11" fill="#000"/>
<line x1="626.7" y1="400.5" x2="637.44" y2="383.20" stroke="#000" stroke-width="1.3"/>
<polygon points="640.6,378.1 639.20,385.47 634.61,382.62" fill="#000"/>
<line x1="660" y1="412.9" x2="649.76" y2="391.23" stroke="#000" stroke-width="1.3"/>
<polygon points="647.2,385.8 652.63,390.98 647.75,393.28" fill="#000"/>
<rect x="399" y="289.8" width="118.60000000000002" height="86.69999999999999" fill="#fff" stroke="#000" stroke-width="1.5"/>
<path d="M399.00,320.80 399.30,320.74 399.60,320.68 399.90,320.62 400.20,320.56 400.50,320.50 400.80,320.44 401.10,320.38 401.40,320.32 401.70,320.26 402.00,320.20 402.30,320.14 402.60,320.09 402.90,320.03 403.20,319.97 403.50,319.91 403.80,319.85 404.10,319.80 404.40,319.74 404.70,319.68 405.00,319.62 405.30,319.57 405.60,319.51 405.90,319.45 406.20,319.40 406.50,319.34 406.80,319.29 407.10,319.23 407.40,319.17 407.70,319.12 408.00,319.06 408.30,319.01 408.60,318.95 408.90,318.90 409.20,318.84 409.50,318.79 409.80,318.74 410.10,318.68 410.40,318.63 410.70,318.58 411.00,318.52 411.30,318.47 411.60,318.42 411.90,318.36 412.20,318.31 412.50,318.26 412.80,318.21 413.10,318.16 413.40,318.11 413.70,318.06 414.00,318.01 414.30,317.96 414.60,317.91 414.90,317.85 415.20,317.80 415.50,317.75 415.80,317.70 416.10,317.65 416.40,317.60 416.70,317.55 417.00,317.50 417.30,317.45 417.60,317.40 417.90,317.35 418.20,317.30 418.50,317.25 418.80,317.20 419.10,317.15 419.40,317.10 419.70,317.05 420.00,317.00 420.30,316.95 420.60,316.90 420.90,316.85 421.20,316.80 421.50,316.75 421.80,316.69 422.10,316.64 422.40,316.59 422.70,316.54 423.00,316.49 423.30,316.44 423.60,316.39 423.90,316.34 424.20,316.29 424.50,316.24 424.80,316.18 425.10,316.13 425.40,316.08 425.70,316.03 426.00,315.98 426.30,315.93 426.60,315.88 426.90,315.83 427.20,315.78 427.50,315.73 427.80,315.67 428.10,315.62 428.40,315.57 428.70,315.52 429.00,315.47 429.30,315.42 429.60,315.37 429.90,315.32 430.20,315.27 430.50,315.21 430.80,315.15 431.10,315.09 431.40,315.03 431.70,314.97 432.00,314.90 432.30,314.84 432.60,314.77 432.90,314.70 433.20,314.63 433.50,314.57 433.80,314.50 434.10,314.43 434.40,314.36 434.70,314.30 435.00,314.24 435.30,314.18 435.60,314.12 435.90,314.06 436.20,314.01 436.50,313.96 436.80,313.91 437.10,313.87 437.40,313.83 437.70,313.80 438.00,313.77 438.30,313.74 438.60,313.72 438.90,313.71 439.20,313.70 439.50,313.70 439.80,313.71 440.10,313.74 440.40,313.77 440.70,313.82 441.00,313.88 441.30,313.95 441.60,314.04 441.90,314.25 442.20,314.60 442.50,315.08 442.80,315.66 443.10,316.37 443.40,317.66 443.70,319.42 444.00,321.36 444.30,323.38 444.60,325.77 444.90,328.22 445.20,330.40 445.50,332.44 445.80,334.43 446.10,335.95 446.40,336.65 446.70,337.04 447.00,337.30 447.30,337.40 447.60,336.71 447.90,335.20 448.20,333.69 448.50,333.00 448.80,333.05 449.10,333.20 449.40,333.42 449.70,333.84 450.00,334.88 450.30,336.33 450.60,337.96 450.90,339.53 451.20,340.92 451.50,342.35 451.80,343.80 452.10,345.23 452.40,346.58 452.70,347.93 453.00,349.42 453.30,350.54 453.60,350.77 453.90,350.37 454.20,349.62 454.50,348.67 454.80,347.65 455.10,346.68 455.40,345.57 455.70,344.30 456.00,342.95 456.30,341.61 456.60,340.37 456.90,339.30 457.20,338.44 457.50,337.65 457.80,336.91 458.10,336.22 458.40,335.57 458.70,334.96 459.00,334.39 459.30,333.85 459.60,333.33 459.90,332.78 460.20,332.21 460.50,331.65 460.80,331.13 461.10,330.68 461.40,330.32 461.70,330.08 462.00,330.00 462.30,330.14 462.60,330.51 462.90,331.01 463.20,331.54 463.50,332.00 463.80,332.38 464.10,332.74 464.40,333.10 464.70,333.51 465.00,334.00 465.30,334.64 465.60,335.45 465.90,336.33 466.20,337.21 466.50,338.00 466.80,338.83 467.10,339.66 467.40,340.16 467.70,340.08 468.00,339.50 468.30,338.59 468.60,337.49 468.90,336.36 469.20,335.23 469.50,333.88 469.80,332.39 470.10,330.88 470.40,329.44 470.70,328.12 471.00,326.80 471.30,325.62 471.60,324.74 471.90,324.00 472.20,323.32 472.50,322.72 472.80,322.18 473.10,321.71 473.40,321.32 473.70,321.00 474.00,320.71 474.30,320.44 474.60,320.19 474.90,319.95 475.20,319.73 475.50,319.53 475.80,319.33 476.10,319.15 476.40,318.98 476.70,318.81 477.00,318.66 477.30,318.51 477.60,318.36 477.90,318.22 478.20,318.08 478.50,317.95 478.80,317.81 479.10,317.68 479.40,317.54 479.70,317.42 480.00,317.29 480.30,317.17 480.60,317.05 480.90,316.94 481.20,316.82 481.50,316.71 481.80,316.60 482.10,316.50 482.40,316.40 482.70,316.30 483.00,316.20 483.30,316.10 483.60,316.01 483.90,315.92 484.20,315.83 484.50,315.75 484.80,315.66 485.10,315.58 485.40,315.50 485.70,315.43 486.00,315.35 486.30,315.28 486.60,315.21 486.90,315.14 487.20,315.07 487.50,315.00 487.80,314.94 488.10,314.88 488.40,314.82 488.70,314.76 489.00,314.70 489.30,314.64 489.60,314.58 489.90,314.53 490.20,314.47 490.50,314.42 490.80,314.37 491.10,314.31 491.40,314.26 491.70,314.21 492.00,314.16 492.30,314.10 492.60,314.05 492.90,314.00 493.20,313.95 493.50,313.90 493.80,313.85 494.10,313.79 494.40,313.74 494.70,313.69 495.00,313.64 495.30,313.60 495.60,313.55 495.90,313.50 496.20,313.45 496.50,313.40 496.80,313.36 497.10,313.31 497.40,313.27 497.70,313.22 498.00,313.18 498.30,313.13 498.60,313.09 498.90,313.05 499.20,313.01 499.50,312.97 499.80,312.93 500.10,312.89 500.40,312.85 500.70,312.81 501.00,312.77 501.30,312.73 501.60,312.69 501.90,312.65 502.20,312.62 502.50,312.58 502.80,312.54 503.10,312.50 503.40,312.47 503.70,312.43 504.00,312.39 504.30,312.35 504.60,312.32 504.90,312.28 505.20,312.24 505.50,312.21 505.80,312.17 506.10,312.14 506.40,312.10 506.70,312.07 507.00,312.03 507.30,312.00 507.60,311.96 507.90,311.93 508.20,311.89 508.50,311.86 508.80,311.83 509.10,311.79 509.40,311.76 509.70,311.73 510.00,311.70 510.30,311.66 510.60,311.63 510.90,311.60 511.20,311.57 511.50,311.54 511.80,311.51 512.10,311.48 512.40,311.45 512.70,311.42 513.00,311.39 513.30,311.36 513.60,311.34 513.90,311.31 514.20,311.28 514.50,311.25 514.80,311.23 515.10,311.20 515.40,311.18 515.70,311.15 516.00,311.13 516.30,311.10 516.60,311.08 516.90,311.05 517.20,311.03 517.50,311.01" fill="none" stroke="#dc4c1e" stroke-width="1.2" stroke-linejoin="round"/>
<line x1="417.70" y1="376.5" x2="417.70" y2="374.0" stroke="#000" stroke-width="1"/>
<line x1="438.00" y1="376.5" x2="438.00" y2="374.0" stroke="#000" stroke-width="1"/>
<line x1="458.30" y1="376.5" x2="458.30" y2="374.0" stroke="#000" stroke-width="1"/>
<line x1="478.60" y1="376.5" x2="478.60" y2="374.0" stroke="#000" stroke-width="1"/>
<line x1="498.90" y1="376.5" x2="498.90" y2="374.0" stroke="#000" stroke-width="1"/>
<line x1="407.55" y1="376.5" x2="407.55" y2="375.0" stroke="#000" stroke-width="1"/>
<line x1="427.85" y1="376.5" x2="427.85" y2="375.0" stroke="#000" stroke-width="1"/>
<line x1="448.15" y1="376.5" x2="448.15" y2="375.0" stroke="#000" stroke-width="1"/>
<line x1="468.45" y1="376.5" x2="468.45" y2="375.0" stroke="#000" stroke-width="1"/>
<line x1="488.75" y1="376.5" x2="488.75" y2="375.0" stroke="#000" stroke-width="1"/>
<line x1="509.05" y1="376.5" x2="509.05" y2="375.0" stroke="#000" stroke-width="1"/>
<line x1="453.1" y1="295.3" x2="463.6" y2="295.3" stroke="#dc4c1e" stroke-width="1"/>
<line x1="436" y1="344.5" x2="442.69" y2="339.19" stroke="#000" stroke-width="1.0"/>
<polygon points="445.2,337.2 443.09,341.30 440.73,338.32" fill="#000"/>
<line x1="459" y1="360.5" x2="455.32" y2="354.26" stroke="#000" stroke-width="1.0"/>
<polygon points="453.7,351.5 457.47,354.15 454.19,356.08" fill="#000"/>
<line x1="465.6" y1="321.1" x2="464.71" y2="330.22" stroke="#000" stroke-width="1.0"/>
<polygon points="464.4,333.4 462.92,329.04 466.70,329.40" fill="#000"/>
<line x1="475" y1="351.5" x2="469.92" y2="344.76" stroke="#000" stroke-width="1.0"/>
<polygon points="468,342.2 472.04,344.41 469.01,346.70" fill="#000"/>
<text x="1.50" y="19.00" font-size="25" font-weight="bold" textLength="30.00" lengthAdjust="spacingAndGlyphs">(a)</text>
<text x="74.00" y="26.20" font-size="12" font-weight="bold" textLength="9.00" lengthAdjust="spacingAndGlyphs">G</text>
<text x="109.50" y="32.20" font-size="12" font-weight="bold" textLength="72.50" lengthAdjust="spacingAndGlyphs">(1334 cm<tspan dy="-4.5" font-size="8">-1</tspan><tspan dy="4.5">) D</tspan></text>
<text x="246.50" y="73.00" font-size="12" font-weight="bold" textLength="73.50" lengthAdjust="spacingAndGlyphs">(1573 cm<tspan dy="-4.5" font-size="8">-1</tspan><tspan dy="4.5">) G</tspan></text>
<text x="263.00" y="150.30" font-size="12" font-weight="bold" textLength="60.50" lengthAdjust="spacingAndGlyphs">I<tspan dy="3.5" font-size="8">D</tspan><tspan dy="-3.5">/I</tspan><tspan dy="3.5" font-size="8">G</tspan><tspan dy="-3.5"> = 1.41</tspan></text>
<text x="124.00" y="263.30" font-size="14" font-weight="bold" textLength="119.50" lengthAdjust="spacingAndGlyphs">Raman shift (cm<tspan dy="-5" font-size="9">-1</tspan><tspan dy="5">)</tspan></text>
<text transform="translate(16.30,153.50) rotate(-90)" font-size="14" font-weight="bold" textLength="93.50" lengthAdjust="spacingAndGlyphs">Intensity (a.u.)</text>
<text x="345.50" y="18.60" font-size="25" font-weight="bold" textLength="32.50" lengthAdjust="spacingAndGlyphs">(b)</text>
<text x="426.00" y="27.60" font-size="12" font-weight="bold" textLength="87.00" lengthAdjust="spacingAndGlyphs">[P<tspan dy="3.5" font-size="8">66614</tspan><tspan dy="-3.5">][DEHP]-G</tspan></text>
<text x="464.50" y="72.80" font-size="12" font-weight="bold" textLength="73.00" lengthAdjust="spacingAndGlyphs">(1339 cm<tspan dy="-4.5" font-size="8">-1</tspan><tspan dy="4.5">) D</tspan></text>
<text x="604.50" y="32.60" font-size="12" font-weight="bold" textLength="73.50" lengthAdjust="spacingAndGlyphs">(1580 cm<tspan dy="-4.5" font-size="8">-1</tspan><tspan dy="4.5">) G</tspan></text>
<text x="619.50" y="149.10" font-size="12" font-weight="bold" textLength="61.50" lengthAdjust="spacingAndGlyphs">I<tspan dy="3.5" font-size="8">D</tspan><tspan dy="-3.5">/I</tspan><tspan dy="3.5" font-size="8">G</tspan><tspan dy="-3.5"> = 0.88</tspan></text>
<text x="476.50" y="263.10" font-size="14" font-weight="bold" textLength="119.50" lengthAdjust="spacingAndGlyphs">Raman shift (cm<tspan dy="-5" font-size="9">-1</tspan><tspan dy="5">)</tspan></text>
<text transform="translate(366.10,154.00) rotate(-90)" font-size="14" font-weight="bold" textLength="93.50" lengthAdjust="spacingAndGlyphs">Intensity (a.u.)</text>
<text x="1.00" y="304.00" font-size="25" font-weight="bold" textLength="28.50" lengthAdjust="spacingAndGlyphs">(c)</text>
<text x="80.00" y="309.60" font-size="12" font-weight="bold" textLength="10.00" lengthAdjust="spacingAndGlyphs">G</text>
<text x="65.50" y="493.90" font-size="13" font-weight="bold" textLength="26.00" lengthAdjust="spacingAndGlyphs">3438</text>
<text x="246.00" y="434.70" font-size="13" font-weight="bold" textLength="27.00" lengthAdjust="spacingAndGlyphs">1633</text>
<text x="122.50" y="553.80" font-size="14" font-weight="bold" textLength="133.00" lengthAdjust="spacingAndGlyphs">Wavenumber (cm<tspan dy="-5" font-size="9">-1</tspan><tspan dy="5">)</tspan></text>
<text transform="translate(15.20,462.00) rotate(-90)" font-size="14" font-weight="bold" textLength="125.50" lengthAdjust="spacingAndGlyphs">Transmittance (%)</text>
<text x="347.00" y="315.00" font-size="25" font-weight="bold" textLength="32.00" lengthAdjust="spacingAndGlyphs">(d)</text>
<text x="589.50" y="308.00" font-size="12" font-weight="bold" textLength="90.50" lengthAdjust="spacingAndGlyphs">[P<tspan dy="3.5" font-size="8">66614</tspan><tspan dy="-3.5">][DEHP]-G</tspan></text>
<text x="618.50" y="345.70" font-size="13" font-weight="bold" textLength="26.50" lengthAdjust="spacingAndGlyphs">1238</text>
<text x="612.00" y="412.80" font-size="13" font-weight="bold" textLength="27.50" lengthAdjust="spacingAndGlyphs">1056</text>
<text x="653.50" y="427.80" font-size="13" font-weight="bold" textLength="26.00" lengthAdjust="spacingAndGlyphs">1041</text>
<text x="472.00" y="553.40" font-size="14" font-weight="bold" textLength="131.50" lengthAdjust="spacingAndGlyphs">Wavenumber (cm<tspan dy="-5" font-size="9">-1</tspan><tspan dy="5">)</tspan></text>
<text transform="translate(363.90,462.50) rotate(-90)" font-size="14" font-weight="bold" textLength="126.50" lengthAdjust="spacingAndGlyphs">Transmittance (%)</text>
<text x="431.00" y="352.70" font-size="7.5" font-weight="bold" textLength="14.50" lengthAdjust="spacingAndGlyphs">2954</text>
<text x="454.00" y="368.30" font-size="7.5" font-weight="bold" textLength="15.50" lengthAdjust="spacingAndGlyphs">2929</text>
<text x="458.50" y="317.40" font-size="7.5" font-weight="bold" textLength="16.00" lengthAdjust="spacingAndGlyphs">2871</text>
<text x="476.00" y="357.00" font-size="7.5" font-weight="bold" textLength="15.00" lengthAdjust="spacingAndGlyphs">2852</text>
<text x="465.00" y="297.60" font-size="6.5" font-weight="normal" textLength="49.00" lengthAdjust="spacingAndGlyphs">[P<tspan dy="2" >66614</tspan><tspan dy="-2.3">][DEHP]-G</tspan></text>
<text transform="translate(390.80,367.00) rotate(-90)" font-size="7" font-weight="bold" textLength="62.50" lengthAdjust="spacingAndGlyphs">Transmittance (%)</text>
<text x="23.75" y="237.20" font-size="14" font-weight="bold" textLength="20.50" lengthAdjust="spacingAndGlyphs">600</text>
<text x="66.32" y="237.20" font-size="14" font-weight="bold" textLength="21.50" lengthAdjust="spacingAndGlyphs">800</text>
<text x="105.14" y="237.20" font-size="14" font-weight="bold" textLength="28.00" lengthAdjust="spacingAndGlyphs">1000</text>
<text x="147.71" y="237.20" font-size="14" font-weight="bold" textLength="28.00" lengthAdjust="spacingAndGlyphs">1200</text>
<text x="190.29" y="237.20" font-size="14" font-weight="bold" textLength="28.00" lengthAdjust="spacingAndGlyphs">1400</text>
<text x="232.86" y="237.20" font-size="14" font-weight="bold" textLength="29.00" lengthAdjust="spacingAndGlyphs">1600</text>
<text x="275.43" y="237.20" font-size="14" font-weight="bold" textLength="29.00" lengthAdjust="spacingAndGlyphs">1800</text>
<text x="319.00" y="237.20" font-size="14" font-weight="bold" textLength="28.00" lengthAdjust="spacingAndGlyphs">2000</text>
<text x="375.75" y="237.20" font-size="14" font-weight="bold" textLength="20.50" lengthAdjust="spacingAndGlyphs">600</text>
<text x="417.82" y="237.20" font-size="14" font-weight="bold" textLength="21.50" lengthAdjust="spacingAndGlyphs">800</text>
<text x="457.14" y="237.20" font-size="14" font-weight="bold" textLength="28.00" lengthAdjust="spacingAndGlyphs">1000</text>
<text x="500.21" y="237.20" font-size="14" font-weight="bold" textLength="28.00" lengthAdjust="spacingAndGlyphs">1200</text>
<text x="542.29" y="237.20" font-size="14" font-weight="bold" textLength="29.00" lengthAdjust="spacingAndGlyphs">1400</text>
<text x="585.36" y="237.20" font-size="14" font-weight="bold" textLength="29.00" lengthAdjust="spacingAndGlyphs">1600</text>
<text x="628.43" y="237.20" font-size="14" font-weight="bold" textLength="28.00" lengthAdjust="spacingAndGlyphs">1800</text>
<text x="671.50" y="237.20" font-size="14" font-weight="bold" textLength="28.00" lengthAdjust="spacingAndGlyphs">2000</text>
<text x="30.77" y="528.20" font-size="14" font-weight="bold" textLength="29.00" lengthAdjust="spacingAndGlyphs">3500</text>
<text x="82.10" y="528.20" font-size="14" font-weight="bold" textLength="29.00" lengthAdjust="spacingAndGlyphs">3000</text>
<text x="133.43" y="528.20" font-size="14" font-weight="bold" textLength="29.00" lengthAdjust="spacingAndGlyphs">2500</text>
<text x="184.77" y="528.20" font-size="14" font-weight="bold" textLength="29.00" lengthAdjust="spacingAndGlyphs">2000</text>
<text x="235.10" y="528.20" font-size="14" font-weight="bold" textLength="30.00" lengthAdjust="spacingAndGlyphs">1500</text>
<text x="286.43" y="528.20" font-size="14" font-weight="bold" textLength="30.00" lengthAdjust="spacingAndGlyphs">1000</text>
<text x="379.80" y="528.20" font-size="14" font-weight="bold" textLength="28.00" lengthAdjust="spacingAndGlyphs">3500</text>
<text x="431.30" y="528.20" font-size="14" font-weight="bold" textLength="28.00" lengthAdjust="spacingAndGlyphs">3000</text>
<text x="481.80" y="528.20" font-size="14" font-weight="bold" textLength="29.00" lengthAdjust="spacingAndGlyphs">2500</text>
<text x="533.30" y="528.20" font-size="14" font-weight="bold" textLength="29.00" lengthAdjust="spacingAndGlyphs">2000</text>
<text x="583.80" y="528.20" font-size="14" font-weight="bold" textLength="30.00" lengthAdjust="spacingAndGlyphs">1500</text>
<text x="635.30" y="528.20" font-size="14" font-weight="bold" textLength="29.00" lengthAdjust="spacingAndGlyphs">1000</text>
<text x="410.15" y="385.00" font-size="7.5" font-weight="bold" textLength="16.00" lengthAdjust="spacingAndGlyphs">3100</text>
<text x="429.80" y="385.00" font-size="7.5" font-weight="bold" textLength="16.00" lengthAdjust="spacingAndGlyphs">3000</text>
<text x="450.45" y="385.00" font-size="7.5" font-weight="bold" textLength="16.00" lengthAdjust="spacingAndGlyphs">2900</text>
<text x="470.10" y="385.00" font-size="7.5" font-weight="bold" textLength="16.00" lengthAdjust="spacingAndGlyphs">2800</text>
<text x="489.75" y="385.00" font-size="7.5" font-weight="bold" textLength="16.00" lengthAdjust="spacingAndGlyphs">2700</text>
</svg>
</body></html>
